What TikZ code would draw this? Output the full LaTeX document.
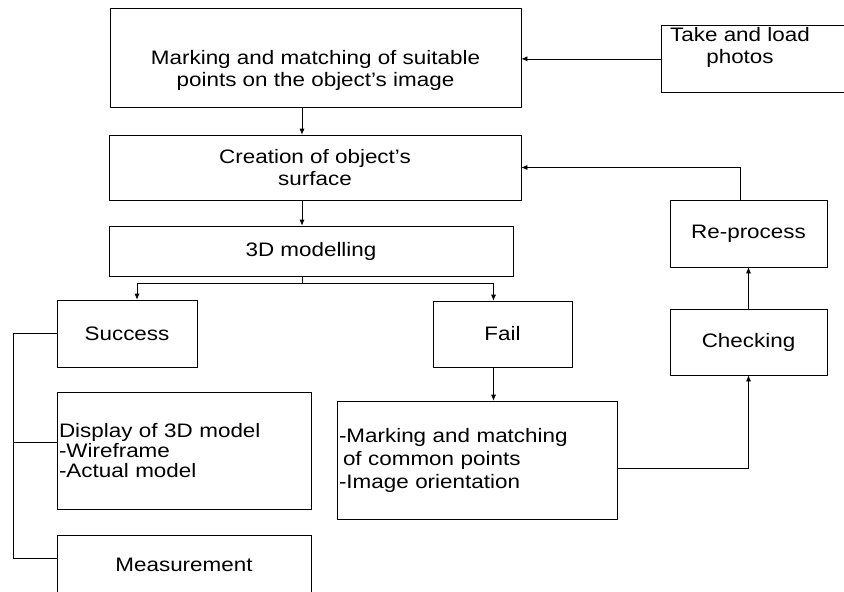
\documentclass[tikz,border=0pt]{standalone}
\usepackage{fontspec}
\setmainfont{Liberation Sans}[FakeStretch=1.15]
\usetikzlibrary{arrows.meta}

\begin{document}
\begin{tikzpicture}[x=1pt, y=-1pt, line width=0.7pt,
  box/.style={draw, align=center, inner sep=2pt, font=\fontsize{19.5}{22}\selectfont},
  arr/.style={-{Latex[length=6pt,width=5pt]}}]
% page
\useasboundingbox (0,0) rectangle (844,592);

% main column
\node[draw, minimum width=411pt, minimum height=99pt] (mark) at (315.5,57.5) {};
\node[box, draw=none] (marktext) at (315.5,70) {Marking and matching of suitable\\points on the object's image};
\node[box, minimum width=412pt, minimum height=65pt] (surface) at (315,167.5) {Creation of object's\\surface};
\node[box, minimum width=404pt, minimum height=50pt] (model) at (311,251) {3D modelling};

% photos (box runs off the page, no right side)
\node[anchor=north west, minimum width=200pt, minimum height=67pt] (photos) at (661,25) {};
\draw (photos.north east) -- (photos.north west) -- (photos.south west) -- (photos.south east);
\node[box, draw=none, anchor=north] (photostext) at (740,25) {Take and load\\photos};

% success side
\node[box, minimum width=140pt, minimum height=67pt] (success) at (127,333.5) {Success};
\node[box, align=left, text width=250pt, minimum height=117pt, font=\fontsize{19.5}{20}\selectfont] (display) at (184,450.5) {Display of 3D model\\-Wireframe\\-Actual model};
\node[box, minimum width=254pt, minimum height=60pt] (measure) at (184,565) {Measurement};

% fail side
\node[box, minimum width=139pt, minimum height=66pt] (fail) at (502.5,334) {Fail};
\node[box, align=left, text width=276pt, minimum height=118pt, font=\fontsize{19.5}{23}\selectfont] (common) at (477,460) {-Marking and matching\\\hspace*{4pt}of common points\\-Image orientation};
\node[box, minimum width=157pt, minimum height=66pt] (check) at (748.5,342) {Checking};
\node[box, minimum width=157pt, minimum height=67pt] (reproc) at (748.5,233.5) {Re-process};

% helper points
\coordinate (spine) at (302,0);
\coordinate (split) at (302,283);
\coordinate (rail) at (13,0);

% arrows down the middle
\draw[arr] (photos.west) -- (photos.west -| mark.east);
\draw[arr] (mark.south -| spine) -- (surface.north -| spine);
\draw[arr] (surface.south -| spine) -- (model.north -| spine);
\draw (model.south -| spine) -- (split);
\draw[arr] (split) -| ([xshift=10pt]success.north);
\draw[arr] (split) -| ([xshift=-9pt]fail.north);

% loop back
\draw[arr] ([xshift=-9pt]fail.south) -- ([xshift=-9pt]fail.south |- common.north);
\draw[arr] ([yshift=-8pt]common.east) -| (check.south);
\draw[arr] (check.north) -- (reproc.south);
\draw[arr] ([xshift=-8pt]reproc.north) |- (surface.east);

% bracket on the left
\draw (success.west) -- (success.west -| rail) -- ([yshift=7pt]measure.west -| rail) -- ([yshift=7pt]measure.west);
\draw ([yshift=8pt]display.west) -- ([yshift=8pt]display.west -| rail);

\end{tikzpicture}
\end{document}
